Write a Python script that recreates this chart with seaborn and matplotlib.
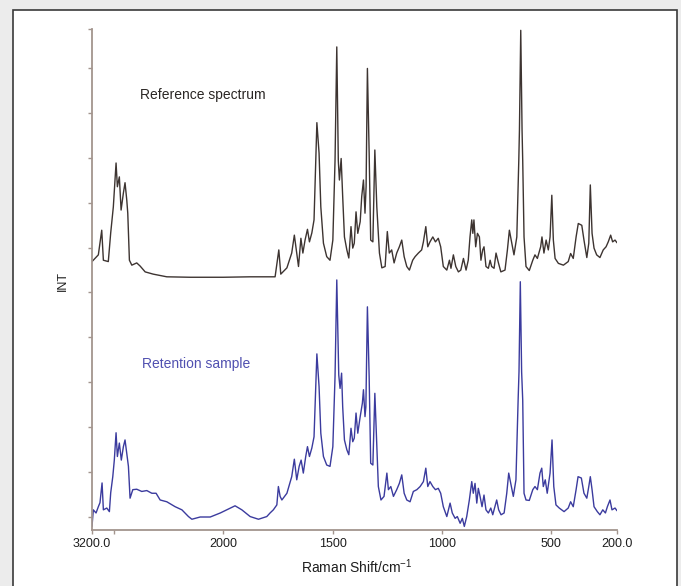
import numpy as np
import matplotlib
matplotlib.use("Agg")
import matplotlib.pyplot as plt
from matplotlib.patches import Rectangle
import seaborn as sns

# Raman shift (cm^-1) and intensity (a.u., stacked display units)
reference_shift = [
    3200, 3142, 3111, 3096, 3051, 3029, 3005, 2980, 2968, 2950, 2934, 2913,
    2898, 2882, 2873, 2858, 2836, 2791, 2760, 2714, 2641, 2516, 2302, 2000,
    1877, 1763, 1746, 1737, 1709, 1687, 1675, 1664, 1656, 1645, 1636, 1626,
    1615, 1606, 1595, 1585, 1572, 1562, 1554, 1542, 1527, 1512, 1499, 1489,
    1481, 1474, 1469, 1461, 1454, 1446, 1435, 1426, 1416, 1408, 1401, 1393,
    1385, 1374, 1367, 1359, 1352, 1347, 1341, 1333, 1326, 1316, 1307, 1298,
    1286, 1275, 1260, 1250, 1241, 1230, 1219, 1207, 1195, 1184, 1173, 1161,
    1149, 1134, 1123, 1108, 1093, 1085, 1074, 1065, 1055, 1042, 1030, 1017,
    1006, 994, 978, 966, 959, 948, 937, 925, 914, 902, 890, 880, 872, 864,
    859, 854, 846, 838, 829, 822, 814, 808, 799, 788, 780, 773, 762, 753,
    742, 731, 712, 701, 692, 681, 671, 658, 649, 646, 640, 634, 631, 625,
    616, 601, 585, 575, 564, 549, 543, 534, 524, 514, 506, 498, 491, 483,
    468, 445, 423, 412, 400, 387, 377, 361, 351, 338, 329, 322, 314, 305,
    293, 278, 263, 250, 240, 229, 220, 209, 200,
]
reference_int = [
    669, 684, 739, 672, 669, 733, 791, 889, 836, 858, 784, 822,
    845, 806, 777, 672, 661, 666, 659, 646, 641, 635, 634, 634,
    635, 635, 695, 641, 655, 688, 728, 688, 658, 721, 688, 717,
    741, 713, 733, 762, 979, 911, 791, 710, 680, 672, 717, 894,
    1148, 894, 851, 899, 814, 724, 695, 677, 747, 699, 710, 780,
    732, 758, 814, 851, 777, 836, 1100, 911, 717, 713, 918, 791,
    688, 655, 658, 736, 688, 695, 666, 688, 702, 717, 680, 658,
    650, 672, 680, 688, 695, 713, 747, 702, 713, 724, 713, 721,
    702, 658, 650, 672, 654, 684, 658, 646, 650, 676, 650, 672, 724, 762,
    732, 762, 702, 732, 724, 672, 695, 702, 658, 654, 672, 658, 654, 688,
    666, 646, 650, 695, 739, 710, 684, 724, 894, 962, 1185, 962, 894, 724,
    658, 649, 672, 684, 676, 702, 724, 688, 717, 695, 724, 817, 717, 676,
    665, 661, 669, 687, 676, 724, 754, 750, 717, 678, 710, 840, 732, 699,
    684, 678, 695, 702, 713, 728, 713, 717, 711,
]

sample_shift = [
    3200, 3188, 3163, 3142, 3127, 3108, 3096, 3065, 3041, 3029, 3010, 2996,
    2980, 2968, 2950, 2932, 2913, 2898, 2882, 2867, 2852, 2827, 2791, 2745,
    2699, 2653, 2614, 2577, 2516, 2440, 2378, 2318, 2287, 2211, 2119, 2027,
    1976, 1946, 1915, 1877, 1839, 1801, 1786, 1771, 1755, 1748, 1740, 1732,
    1709, 1687, 1675, 1664, 1653, 1644, 1634, 1623, 1615, 1606, 1595, 1585,
    1572, 1562, 1554, 1542, 1527, 1512, 1499, 1489, 1481, 1472, 1466, 1459,
    1454, 1446, 1435, 1426, 1416, 1408, 1401, 1393, 1385, 1374, 1364, 1359,
    1352, 1348, 1341, 1333, 1326, 1316, 1307, 1298, 1291, 1279, 1265, 1252,
    1245, 1234, 1222, 1207, 1195, 1184, 1173, 1161, 1146, 1131, 1115, 1100,
    1085, 1074, 1065, 1055, 1042, 1030, 1017, 1006, 994, 978, 963, 953, 940,
    930, 917, 907, 898, 887, 875, 864, 857, 849, 841, 834, 826, 817, 808,
    799, 788, 777, 768, 758, 750, 741, 730, 716, 704, 695, 686, 674, 662,
    652, 648, 642, 636, 631, 625, 616, 601, 585, 575, 564, 552, 544, 537,
    528, 519, 506, 497, 489, 479, 464, 442, 423, 412, 400, 387, 378, 363,
    351, 338, 329, 322, 314, 305, 290, 278, 265, 253, 244, 232, 223, 209, 200,
]
sample_int = [
    78, 115, 108, 122, 131, 175, 115, 119, 111, 153, 189, 226,
    287, 234, 264, 226, 256, 271, 241, 212, 141, 160, 161, 156,
    158, 152, 152, 137, 133, 122, 115, 100, 94, 99, 99, 108,
    117, 124, 115, 100, 94, 100, 108, 115, 126, 167, 145, 137,
    152, 189, 228, 182, 212, 226, 197, 234, 256, 234, 253, 278,
    463, 390, 286, 234, 215, 212, 256, 412, 628, 416, 386, 420,
    345, 271, 249, 238, 297, 267, 275, 331, 286, 323, 353, 383,
    323, 345, 568, 412, 219, 215, 375, 256, 167, 137, 145, 197,
    160, 167, 145, 160, 174, 193, 152, 137, 133, 156, 160, 167,
    178, 208, 167, 178, 167, 160, 163, 152, 122, 100, 130, 108, 96,
    100, 85, 96, 78, 100, 137, 178, 152, 174, 130, 163, 145, 122, 148,
    115, 108, 119, 104, 122, 137, 115, 104, 108, 152, 197, 174, 145, 182,
    360, 423, 624, 423, 360, 152, 137, 136, 160, 167, 160, 197, 208, 167,
    182, 152, 197, 271, 167, 126, 119, 111, 119, 133, 122, 160, 189, 186,
    152, 141, 167, 189, 160, 122, 111, 104, 115, 108, 122, 137, 115, 119, 113,
]

x_ticks = [3200, 3000, 2000, 1500, 1000, 500, 200]
x_tick_labels = ["3200.0", "", "2000", "1500", "1000", "500", "200.0"]
y_ticks = [100, 200, 300, 400, 500, 600, 700, 800, 900, 1000, 1100]
y_range = (70, 1188)

sns.set_style("ticks")
plt.rcParams["font.family"] = ["Liberation Sans", "DejaVu Sans"]
plt.rcParams["mathtext.fontset"] = "custom"
plt.rcParams["mathtext.rm"] = "Liberation Sans"
plt.rcParams["mathtext.it"] = "Liberation Sans:italic"

fig = plt.figure(figsize=(6.81, 5.86), dpi=100, facecolor="#ececec")
W, H = 681, 586

# white panel with dark frame, behind the plot
panel = Rectangle((13 / W, -0.02), 664 / W, 1.02 - 10 / H, transform=fig.transFigure,
                  facecolor="white", edgecolor="#3a3a3a", lw=1.2, zorder=-10)
fig.patches.append(panel)

ax = fig.add_axes([92 / W, 56 / H, 525 / W, 501 / H])
ax.set_zorder(5)
ax.patch.set_alpha(0)

# the C-H stretch region above 2000 cm^-1 is shown at half scale
HIGH, FACTOR = 2000.0, 0.5


def fwd(x):
    x = np.asarray(x, dtype=float)
    return np.where(x > HIGH, HIGH + (x - HIGH) * FACTOR, x)


def inv(u):
    u = np.asarray(u, dtype=float)
    return np.where(u > HIGH, HIGH + (u - HIGH) / FACTOR, u)


ax.set_xscale("function", functions=(fwd, inv))

sns.lineplot(x=reference_shift, y=reference_int, ax=ax, color="#3d3431",
             lw=1.0, estimator=None, sort=True)
sns.lineplot(x=sample_shift, y=sample_int, ax=ax, color="#3b3b9e",
             lw=1.0, estimator=None, sort=True)

ax.set_xlim(3200, 200)
ax.set_ylim(*y_range)
ax.set_xticks(x_ticks)
ax.set_xticklabels(x_tick_labels)
ax.set_yticks(y_ticks + [y_range[1]])
ax.set_yticklabels([])
ax.minorticks_off()

spine_col = "#a3958e"
for side in ("top", "right"):
    ax.spines[side].set_visible(False)
for side in ("left", "bottom"):
    ax.spines[side].set_color(spine_col)
    ax.spines[side].set_linewidth(1.3)
ax.tick_params(axis="both", which="major", direction="out", length=3, width=1,
               color=spine_col, labelsize=9, labelcolor="#1e1e1e", pad=3)
ax.tick_params(axis="x", bottom=True, top=False)
ax.tick_params(axis="y", left=True, right=False)

ax.set_xlabel("Raman Shift/cm$^{-1}$", fontsize=10, color="#1e1e1e")
ax.xaxis.label.set_va("center")
ax.xaxis.set_label_coords(0.505, -0.074)
ax.set_ylabel("INT", fontsize=9, color="#1e1e1e")
ax.yaxis.label.set_va("center")
ax.yaxis.set_label_coords(-0.055, 0.497)

ax.text(0.0914, 0.868, "Reference spectrum", transform=ax.transAxes,
        fontsize=10, color="#2a2624", va="center", ha="left")
ax.text(0.0947, 0.331, "Retention sample", transform=ax.transAxes,
        fontsize=10, color="#5050b0", va="center", ha="left")

fig.savefig("out.png", dpi=100, facecolor=fig.get_facecolor())
